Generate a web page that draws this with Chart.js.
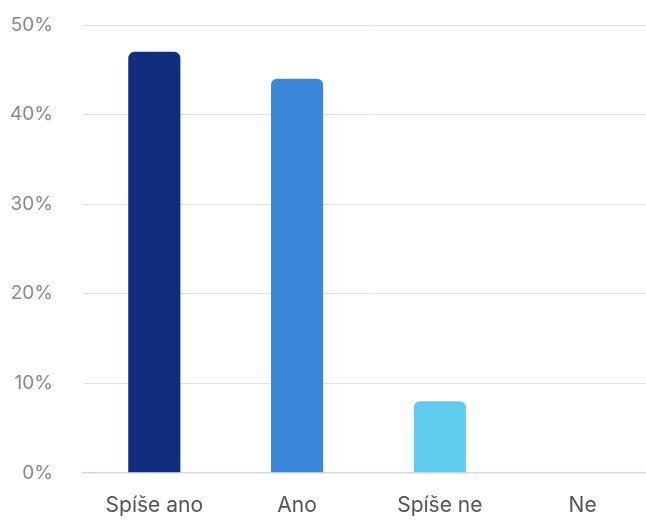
<!DOCTYPE html>
<html>
<head>
<meta charset="utf-8">
<script src="https://cdn.jsdelivr.net/npm/chart.js@4"></script>
<style>
  html, body { margin: 0; padding: 0; background: #fff; overflow: hidden; }
  #wrap { width: 660px; height: 520px; }
</style>
</head>
<body>
<div id="wrap"><canvas id="answersChart"></canvas></div>
<script>
const categories = ['Spíše ano', 'Ano', 'Spíše ne', 'Ne'];
const shares = [47, 44, 8, 0];
const barColors = ['#102d80', '#3a88da', '#60ccef', '#9aa5b8'];
const yTicks = [0, 10, 20, 30, 40, 50];

document.addEventListener('DOMContentLoaded', function () {
    const ctx = document.getElementById('answersChart').getContext('2d');
    new Chart(ctx, {
        type: 'bar',
        data: {
            labels: categories,
            datasets: [{
                data: shares,
                backgroundColor: barColors,
                borderRadius: { topLeft: 6, topRight: 6 },
                borderSkipped: 'bottom',
                categoryPercentage: 1,
                barPercentage: 0.365
            }]
        },
        options: {
            responsive: true,
            maintainAspectRatio: false,
            animation: false,
            layout: { padding: { top: 25, right: 6, left: 6, bottom: 0 } },
            plugins: {
                legend: { display: false },
                tooltip: { enabled: false }
            },
            scales: {
                x: {
                    grid: { color: 'transparent', tickColor: 'transparent', tickLength: 18 },
                    border: { color: '#d3d9e6', width: 1.5 },
                    ticks: {
                        color: '#555555',
                        padding: 2,
                        font: { family: 'Inter', size: 21 }
                    }
                },
                y: {
                    min: 0,
                    max: 50,
                    afterBuildTicks: function (axis) {
                        axis.ticks = yTicks.map(v => ({ value: v }));
                    },
                    grid: { color: '#e2e2e2', tickColor: 'transparent', tickLength: 26 },
                    border: { display: false },
                    ticks: {
                        color: '#8a8a8a',
                        padding: 4,
                        font: { family: 'Inter', size: 19 },
                        callback: v => v + '%'
                    }
                }
            }
        }
    });
});
</script>
</body>
</html>
